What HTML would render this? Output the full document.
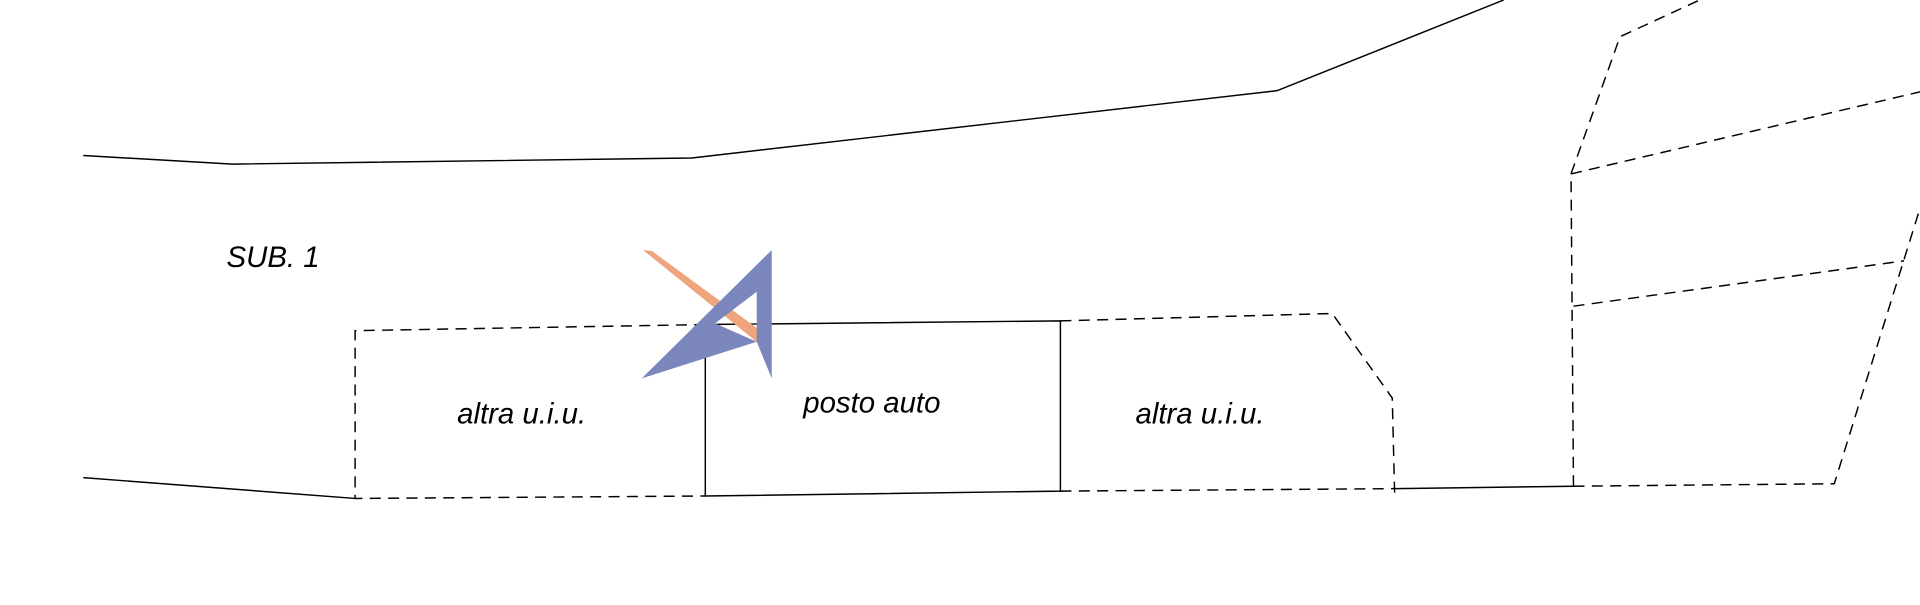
<!DOCTYPE html>
<html><head><style>
html,body{margin:0;padding:0;background:#fff;}
svg{display:block;}
text{font-family:"Liberation Sans",sans-serif;font-style:italic;fill:#000;}
</style></head><body>
<svg width="1920" height="605" viewBox="0 0 1568 494" preserveAspectRatio="none">
<g fill="none" stroke="#000" stroke-width="1.2">
<polyline points="68,127 190,134 565,129 1043,74 1228,0"/>
<polyline points="68,390 290,407"/>
<polygon points="576,265 866,262 866,401 576,405"/>
<polyline points="1138,399 1285,397"/>
</g>
<g fill="none" stroke="#000" stroke-width="1.2" stroke-dasharray="9,6">
<polyline points="576,265 290,270 290,407 576,405"/>
<polyline points="866,262 1088,256 1137,325 1139,405"/>
<polyline points="866,401 1138,399"/>
<polyline points="1285,397 1498,395 1568,170"/>
<polyline points="1285,397 1283,142 1323,30 1388,0"/>
<polyline points="1283,142 1568,75"/>
<polyline points="1285,250 1555,213"/>
</g>
<g transform="scale(0.8167)">
<polygon points="643,250 652,251 757,328 757,342" fill="#eea57e"/>
<path d="M771.7,250 L771.7,378.3 L756.7,341.7 L641.7,378.3 Z M756.7,291.7 L756.7,341.7 L715,323.3 Z" fill="#7b86bd" fill-rule="evenodd"/>
</g>
<text x="185" y="218" font-size="24">SUB. 1</text>
<text x="426" y="346" font-size="24" text-anchor="middle">altra u.i.u.</text>
<text x="712" y="337" font-size="24" text-anchor="middle">posto auto</text>
<text x="980" y="346" font-size="24" text-anchor="middle">altra u.i.u.</text>
</svg>
</body></html>
